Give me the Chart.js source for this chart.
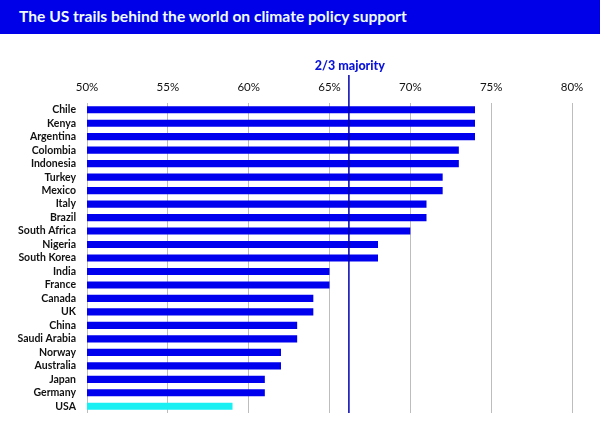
<!DOCTYPE html>
<html>
<head>
<meta charset="utf-8">
<script src="https://cdn.jsdelivr.net/npm/chart.js@4.4.1/dist/chart.umd.min.js"></script>
<style>
  html, body { margin: 0; padding: 0; background: #fff; }
  #wrap { width: 600px; height: 436px; position: relative; overflow: hidden; }
  #banner { position: absolute; left: 0; top: 0; width: 600px; height: 34px; background: #0000e8; }
  #banner h1 { margin: 0; position: absolute; left: 19px; top: 7px; font: 700 15.6px "Lato", sans-serif; color: #eefcff; white-space: nowrap; }
  #cv { position: absolute; left: 0; top: 34px; }
</style>
</head>
<body>
<div id="wrap">
  <div id="banner"><h1>The US trails behind the world on climate policy support</h1></div>
  <canvas id="cv" width="600" height="402"></canvas>
</div>
<script>
const countries = ["Chile","Kenya","Argentina","Colombia","Indonesia","Turkey","Mexico","Italy","Brazil","South Africa","Nigeria","South Korea","India","France","Canada","UK","China","Saudi Arabia","Norway","Australia","Japan","Germany","USA"];
const support = [74,74,74,73,73,72,72,71,71,70,68,68,65,65,64,64,63,63,62,62,61,61,59];
const barColors = countries.map(c => c === "USA" ? "#18f0f4" : "#0000ee");
const axisMin = 50, axisMax = 80, axisStep = 5;
const majorityValue = 66.2;
const majorityLabel = "2/3 majority";

const majorityPlugin = {
  id: 'majority',
  afterDatasetsDraw(chart) {
    const ctx = chart.ctx;
    const xs = chart.scales.x;
    const x = xs.getPixelForValue(majorityValue);
    ctx.save();
    ctx.strokeStyle = '#0000b0';
    ctx.lineWidth = 1.5;
    ctx.beginPath();
    ctx.moveTo(x, 41);
    ctx.lineTo(x, chart.chartArea.bottom);
    ctx.stroke();
    ctx.fillStyle = '#0a14d8';
    ctx.font = '900 12.5px "Lato", sans-serif';
    ctx.textAlign = 'center';
    ctx.textBaseline = 'middle';
    ctx.fillText(majorityLabel, x + 1, 32);
    ctx.restore();
  }
};

new Chart(document.getElementById('cv'), {
  type: 'bar',
  data: {
    labels: countries,
    datasets: [{
      data: support,
      backgroundColor: barColors,
      categoryPercentage: 1,
      barPercentage: 0.53
    }]
  },
  options: {
    indexAxis: 'y',
    responsive: false,
    animation: false,
    layout: { padding: { top: 20, right: 28, bottom: 23, left: 0 } },
    plugins: { legend: { display: false }, tooltip: { enabled: false } },
    scales: {
      x: {
        position: 'top',
        min: axisMin, max: axisMax,
        ticks: { stepSize: axisStep, padding: 8.5, color: '#111', font: { family: 'Lato', size: 11.5 }, callback: v => v + '%' },
        grid: { color: '#bdbdbd', lineWidth: 1, drawTicks: false },
        border: { display: false },
        afterFit(s) { s.height = 49; }
      },
      y: {
        ticks: { autoSkip: false, padding: 11, color: '#111', font: { family: 'Lato', size: 10.5, weight: '700' } },
        grid: { display: false, drawTicks: false },
        border: { display: false },
        afterFit(s) { s.width = 87; }
      }
    }
  },
  plugins: [majorityPlugin]
});
</script>
</body>
</html>
